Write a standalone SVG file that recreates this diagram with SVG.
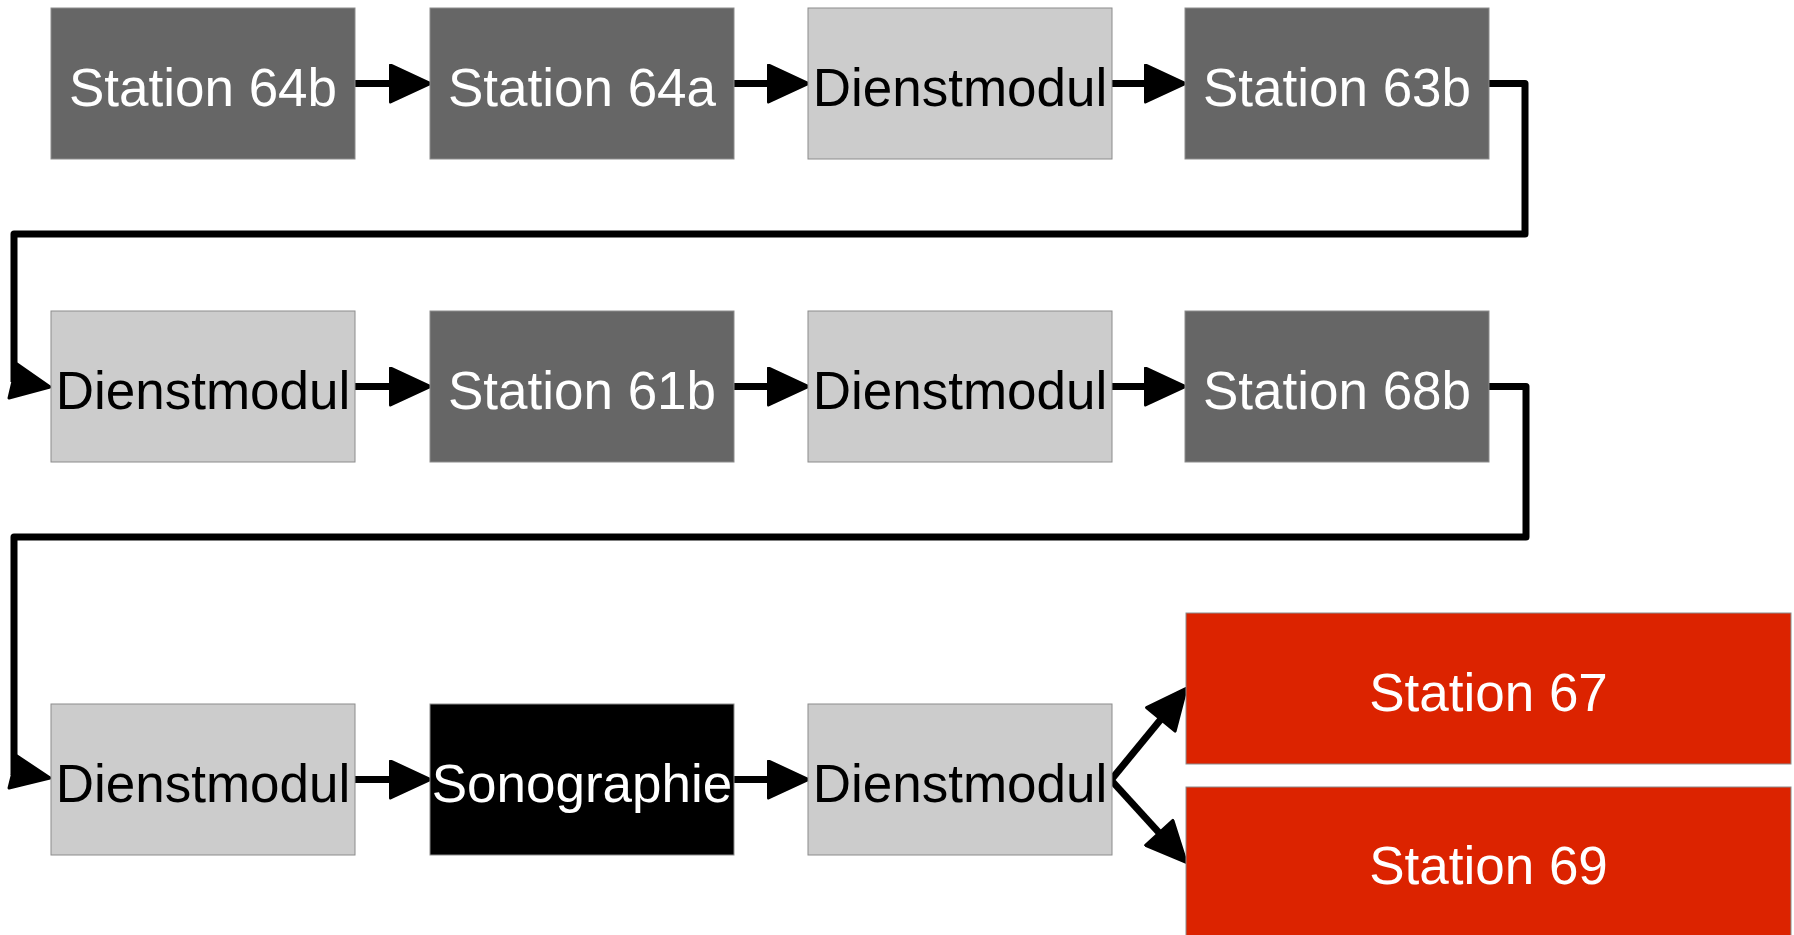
<svg xmlns="http://www.w3.org/2000/svg" width="1794" height="935" viewBox="0 0 1794 935">
  <style>
    .box { stroke: #8c8c8c; stroke-width: 1; }
    .dark { fill: #666666; }
    .light { fill: #cccccc; }
    .black { fill: #000000; }
    .red { fill: #dc2300; }
    .lbl { font-family: "Liberation Sans", Arial, sans-serif; font-size: 53px; text-anchor: middle; }
    .w { fill: #ffffff; }
    .k { fill: #000000; }
    .edge { fill: none; stroke: #000; stroke-width: 7; stroke-linejoin: round; }
    .head { fill: #000; stroke: #000; stroke-width: 3; stroke-linejoin: round; }
  </style>
  <defs>
    <marker id="arrow" viewBox="0 0 44 40" refX="22" refY="20" markerWidth="44" markerHeight="40" markerUnits="userSpaceOnUse" orient="auto">
      <path d="M2.5,1.5 L42.5,20 L2.5,38.5 Z" fill="#000" stroke="#000" stroke-width="3" stroke-linejoin="round"/>
    </marker>
  </defs>
  <rect width="1794" height="935" fill="#ffffff"/>

  <!-- Connectors -->
  <g id="connectors">
    <!-- row 1 -->
    <path class="edge" d="M355,83.5 H410" marker-end="url(#arrow)"/>
    <path class="edge" d="M734,83.5 H788" marker-end="url(#arrow)"/>
    <path class="edge" d="M1112,83.5 H1165" marker-end="url(#arrow)"/>
    <!-- wrap from row 1 to row 2 -->
    <path class="edge" d="M1489,83.5 H1525 V234 H14 V382"/>
    <polygon class="head" points="17,364 50,387 9,398"/>
    <!-- row 2 -->
    <path class="edge" d="M355,386.5 H410" marker-end="url(#arrow)"/>
    <path class="edge" d="M734,386.5 H788" marker-end="url(#arrow)"/>
    <path class="edge" d="M1112,386.5 H1165" marker-end="url(#arrow)"/>
    <!-- wrap from row 2 to row 3 -->
    <path class="edge" d="M1489,386.5 H1526 V537 H14 V775"/>
    <polygon class="head" points="17,756 50,778 9,788"/>
    <!-- row 3 -->
    <path class="edge" d="M355,779.5 H410" marker-end="url(#arrow)"/>
    <path class="edge" d="M734,779.5 H788" marker-end="url(#arrow)"/>
    <!-- branches -->
    <path class="edge" d="M1111,780 L1173.2,704.3" marker-end="url(#arrow)"/>
    <path class="edge" d="M1111,780 L1172.4,847.3" marker-end="url(#arrow)"/>
  </g>

  <!-- Row 1 -->
  <g id="n-64b"><rect class="box dark" x="51" y="8" width="304" height="151"/><text class="lbl w" x="203" y="105.5">Station 64b</text></g>
  <g id="n-64a"><rect class="box dark" x="430" y="8" width="304" height="151"/><text class="lbl w" x="582" y="105.5">Station 64a</text></g>
  <g id="n-dm1"><rect class="box light" x="808" y="8" width="304" height="151"/><text class="lbl k" x="960" y="105.5">Dienstmodul</text></g>
  <g id="n-63b"><rect class="box dark" x="1185" y="8" width="304" height="151"/><text class="lbl w" x="1337" y="105.5">Station 63b</text></g>

  <!-- Row 2 -->
  <g id="n-dm2"><rect class="box light" x="51" y="311" width="304" height="151"/><text class="lbl k" x="203" y="408.5">Dienstmodul</text></g>
  <g id="n-61b"><rect class="box dark" x="430" y="311" width="304" height="151"/><text class="lbl w" x="582" y="408.5">Station 61b</text></g>
  <g id="n-dm3"><rect class="box light" x="808" y="311" width="304" height="151"/><text class="lbl k" x="960" y="408.5">Dienstmodul</text></g>
  <g id="n-68b"><rect class="box dark" x="1185" y="311" width="304" height="151"/><text class="lbl w" x="1337" y="408.5">Station 68b</text></g>

  <!-- Row 3 -->
  <g id="n-dm4"><rect class="box light" x="51" y="704" width="304" height="151"/><text class="lbl k" x="203" y="801.5">Dienstmodul</text></g>
  <g id="n-sono"><rect class="box black" x="430" y="704" width="304" height="151"/><text class="lbl w" x="582" y="801.5">Sonographie</text></g>
  <g id="n-dm5"><rect class="box light" x="808" y="704" width="304" height="151"/><text class="lbl k" x="960" y="801.5">Dienstmodul</text></g>

  <!-- Targets -->
  <g id="n-67"><rect class="box red" x="1186" y="613" width="605" height="151"/><text class="lbl w" x="1488.5" y="710.5">Station 67</text></g>
  <g id="n-69"><rect class="box red" x="1186" y="787" width="605" height="151"/><text class="lbl w" x="1488.5" y="884">Station 69</text></g>
</svg>
